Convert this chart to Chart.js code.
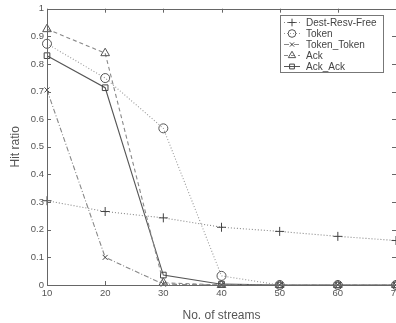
<!DOCTYPE html>
<html>
<head>
<meta charset="utf-8">
<script src="https://cdn.jsdelivr.net/npm/chart.js@4.4.1/dist/chart.umd.min.js"></script>
<style>
html,body{margin:0;padding:0;background:#fff;overflow:hidden;width:396px;height:323px;}
#wrap{position:absolute;left:0;top:0;width:412px;height:323px;}
</style>
</head>
<body>
<div id="wrap"><canvas id="c" width="412" height="323"></canvas></div>
<script>
const streams = [10, 20, 30, 40, 50, 60, 70];
const destResvFree = [0.305, 0.266, 0.243, 0.209, 0.194, 0.176, 0.161];
const token = [0.873, 0.749, 0.567, 0.033, 0.0, 0.0, 0.0];
const tokenToken = [0.706, 0.100, 0.003, 0.0, 0.0, 0.0, 0.0];
const ack = [0.926, 0.839, 0.008, 0.0, 0.0, 0.0, 0.0];
const ackAck = [0.830, 0.714, 0.036, 0.003, 0.0, 0.0, 0.0];
const seriesNames = ['Dest-Resv-Free', 'Token', 'Token_Token', 'Ack', 'Ack_Ack'];
const xTicks = [10, 20, 30, 40, 50, 60, 70];
const yTicks = [0, 0.1, 0.2, 0.3, 0.4, 0.5, 0.6, 0.7, 0.8, 0.9, 1];

function pts(vals){ return streams.map((x,i)=>({x:x, y:vals[i]})); }

const styles = [
  {dash:[1,2], pt:'cross', r:4.5, color:'#888', pc:'#444'},
  {dash:[1,2], pt:'circle', r:4.5, color:'#999', pc:'#555'},
  {dash:[5,2,1,2], pt:'crossRot', r:3.5, color:'#888', pc:'#444'},
  {dash:[4,3], pt:'triangle', r:5, color:'#888', pc:'#555'},
  {dash:[], pt:'rect', r:4, color:'#555', pc:'#444'}
];
const allVals = [destResvFree, token, tokenToken, ack, ackAck];

const datasets = allVals.map((v,i)=>({
  label: seriesNames[i],
  data: pts(v),
  borderColor: styles[i].color,
  borderWidth: 1.1,
  borderDash: styles[i].dash,
  pointStyle: styles[i].pt,
  pointRadius: styles[i].r,
  pointBorderColor: styles[i].pc,
  pointBackgroundColor: 'rgba(0,0,0,0)',
  pointBorderWidth: 1,
  tension: 0,
  clip: false
}));

const frame = {
  id: 'frame',
  afterDatasetsDraw(chart){
    const ctx = chart.ctx, a = chart.chartArea;
    const xs = chart.scales.x, ys = chart.scales.y;
    ctx.save();
    ctx.strokeStyle = '#666';
    ctx.lineWidth = 1;
    ctx.setLineDash([]);
    ctx.beginPath();
    ctx.rect(Math.round(a.left)+0.5, Math.round(a.top)+0.5, Math.round(a.right-a.left), Math.round(a.bottom-a.top));
    ctx.stroke();
    ctx.beginPath();
    xTicks.forEach(v=>{
      const px = Math.round(xs.getPixelForValue(v))+0.5;
      ctx.moveTo(px, a.bottom); ctx.lineTo(px, a.bottom-4);
      ctx.moveTo(px, a.top); ctx.lineTo(px, a.top+4);
    });
    yTicks.forEach(v=>{
      const py = Math.round(ys.getPixelForValue(v))+0.5;
      ctx.moveTo(a.left, py); ctx.lineTo(a.left+4, py);
      ctx.moveTo(a.right, py); ctx.lineTo(a.right-4, py);
    });
    ctx.stroke();

    // legend box
    const lx = 280, ly = 15, lw = 103, lh = 57;
    ctx.fillStyle = '#fff';
    ctx.fillRect(lx, ly, lw, lh);
    ctx.strokeStyle = '#777';
    ctx.strokeRect(lx+0.5, ly+0.5, lw, lh);
    ctx.font = '10px "Liberation Sans", Arial, sans-serif';
    ctx.textBaseline = 'middle';
    ctx.textAlign = 'left';
    chart.data.datasets.forEach((ds,i)=>{
      const y = ly + 7.5 + i*11;
      ctx.strokeStyle = ds.borderColor;
      ctx.setLineDash(ds.borderDash);
      ctx.beginPath(); ctx.moveTo(284, y); ctx.lineTo(300, y); ctx.stroke();
      ctx.setLineDash([]);
      ctx.strokeStyle = ds.pointBorderColor;
      ctx.fillStyle = 'rgba(0,0,0,0)';
      Chart.helpers.drawPoint(ctx, {pointStyle: ds.pointStyle, radius: ds.pointRadius*0.85, borderWidth:1, rotation:0}, 292, y);
      ctx.fillStyle = '#444';
      ctx.fillText(ds.label, 306, y+0.5);
    });
    ctx.restore();
  }
};

new Chart(document.getElementById('c'), {
  type: 'line',
  data: { datasets },
  plugins: [frame],
  options: {
    responsive: false,
    animation: false,
    events: [],
    layout: { padding: { top: 6, right: 16, left: 0, bottom: 0 } },
    plugins: { legend: { display: false }, tooltip: { enabled: false } },
    scales: {
      x: {
        type: 'linear', min: 10, max: 70,
        afterBuildTicks(s){ s.ticks = xTicks.map(v=>({value:v})); },
        afterFit(s){ s.height = 38; },
        grid: { display: false, drawTicks: false },
        border: { display: false },
        ticks: { color: '#555', font: { size: 9.5, family: '"Liberation Sans", Arial, sans-serif' }, padding: 3, maxRotation: 0, autoSkip: false },
        title: { display: true, text: 'No. of streams', color: '#555', font: { size: 12, family: '"Liberation Sans", Arial, sans-serif' }, padding: { top: 6, bottom: 0 } }
      },
      y: {
        type: 'linear', min: 0, max: 1,
        afterBuildTicks(s){ s.ticks = yTicks.map(v=>({value:v})); },
        afterFit(s){ s.width = 47; },
        grid: { display: false, drawTicks: false },
        border: { display: false },
        ticks: { color: '#555', font: { size: 9.5, family: '"Liberation Sans", Arial, sans-serif' }, padding: 3,
          callback: v => { const r = Math.round(v*10)/10; return (r===0||r===1) ? String(r) : r.toFixed(1); } },
        title: { display: true, text: 'Hit ratio', color: '#555', font: { size: 12, family: '"Liberation Sans", Arial, sans-serif' }, padding: { top: 8, bottom: 4 } }
      }
    }
  }
});
</script>
</body>
</html>
